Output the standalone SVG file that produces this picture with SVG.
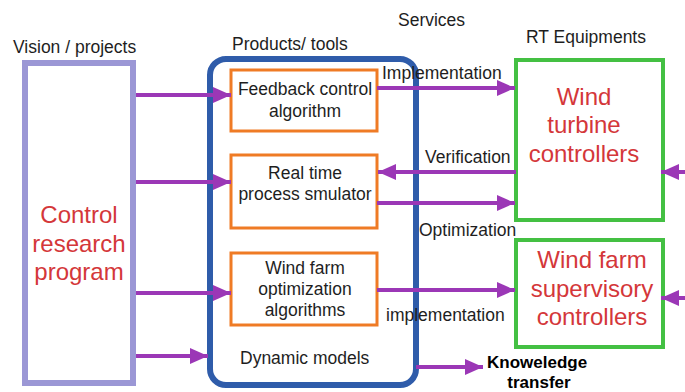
<svg xmlns="http://www.w3.org/2000/svg" width="685" height="392" viewBox="0 0 685 392">
<style>
text{font-family:"Liberation Sans",Arial,sans-serif;fill:#1e1e1e}
.lbl{font-size:17.5px}
.box{font-size:17.5px;text-anchor:middle}
.big{font-size:24px;fill:#d4373a;text-anchor:middle}
.bold{font-size:17px;font-weight:bold;fill:#000}
.orange{fill:#fff;stroke:#ef7b25;stroke-width:3}
.green{fill:#fff;stroke:#44c043;stroke-width:4}
.arr{stroke:#9b37b6;stroke-width:4;fill:none;marker-end:url(#ah)}
</style>
<defs>
<marker id="ah" markerUnits="userSpaceOnUse" markerWidth="18" markerHeight="16" refX="18" refY="8" orient="auto">
<path d="M0,0 L18,8 L0,16 z" fill="#9b37b6"/>
</marker>
</defs>
<rect width="685" height="392" fill="#fff"/>
<text class="lbl" x="13" y="53">Vision / projects</text>
<text class="lbl" x="232" y="50">Products/ tools</text>
<text class="lbl" x="398" y="26">Services</text>
<text class="lbl" x="526" y="43">RT Equipments</text>
<g id="research">
<rect x="25" y="63" width="108" height="320" fill="#fff" stroke="#9b97d5" stroke-width="6"/>
<text class="big" x="79" y="223">Control</text>
<text class="big" x="79" y="252">research</text>
<text class="big" x="79" y="280">program</text>
</g>
<g id="products">
<rect x="210" y="59" width="206" height="326" rx="16" fill="#fff" stroke="#2f5caa" stroke-width="6"/>
<text class="lbl" x="240" y="364">Dynamic models</text>
</g>
<g id="feedback">
<rect class="orange" x="231" y="70" width="146" height="61"/>
<text class="box" x="305" y="95">Feedback control</text>
<text class="box" x="305" y="117">algorithm</text>
</g>
<g id="simulator">
<rect class="orange" x="231" y="155" width="146" height="73"/>
<text class="box" x="305" y="179">Real time</text>
<text class="box" x="305" y="200">process smulator</text>
</g>
<g id="optimization">
<rect class="orange" x="231" y="253" width="146" height="72"/>
<text class="box" x="305" y="274">Wind farm</text>
<text class="box" x="305" y="295">optimization</text>
<text class="box" x="305" y="316">algorithms</text>
</g>
<g id="turbine">
<rect class="green" x="516" y="60" width="147" height="160"/>
<text class="big" x="584" y="105">Wind</text>
<text class="big" x="584" y="133">turbine</text>
<text class="big" x="584" y="162">controllers</text>
</g>
<g id="farm">
<rect class="green" x="516" y="240" width="147" height="107"/>
<text class="big" x="592" y="268">Wind farm</text>
<text class="big" x="592" y="297">supervisory</text>
<text class="big" x="592" y="325">controllers</text>
</g>
<g id="connectors">
<line class="arr" x1="136" y1="95" x2="231" y2="95"/>
<line class="arr" x1="136" y1="182" x2="231" y2="182"/>
<line class="arr" x1="136" y1="293" x2="231" y2="293"/>
<line class="arr" x1="136" y1="356" x2="208" y2="356"/>
<line class="arr" x1="377" y1="88" x2="515" y2="88"/>
<line class="arr" x1="516" y1="172" x2="378" y2="172"/>
<line class="arr" x1="377" y1="203" x2="515" y2="203"/>
<line class="arr" x1="377" y1="290" x2="515" y2="290"/>
<line class="arr" x1="416" y1="367" x2="483" y2="367"/>
<line class="arr" x1="690" y1="172" x2="661" y2="172"/>
<line class="arr" x1="690" y1="298" x2="661" y2="298"/>
<text class="lbl" x="382" y="79">Implementation</text>
<text class="lbl" x="425" y="163">Verification</text>
<text class="lbl" x="419" y="236">Optimization</text>
<text class="lbl" x="386" y="321">implementation</text>
<text class="bold" x="487" y="368">Knoweledge</text>
<text class="bold" x="539" y="388" text-anchor="middle">transfer</text>
</g>
</svg>
